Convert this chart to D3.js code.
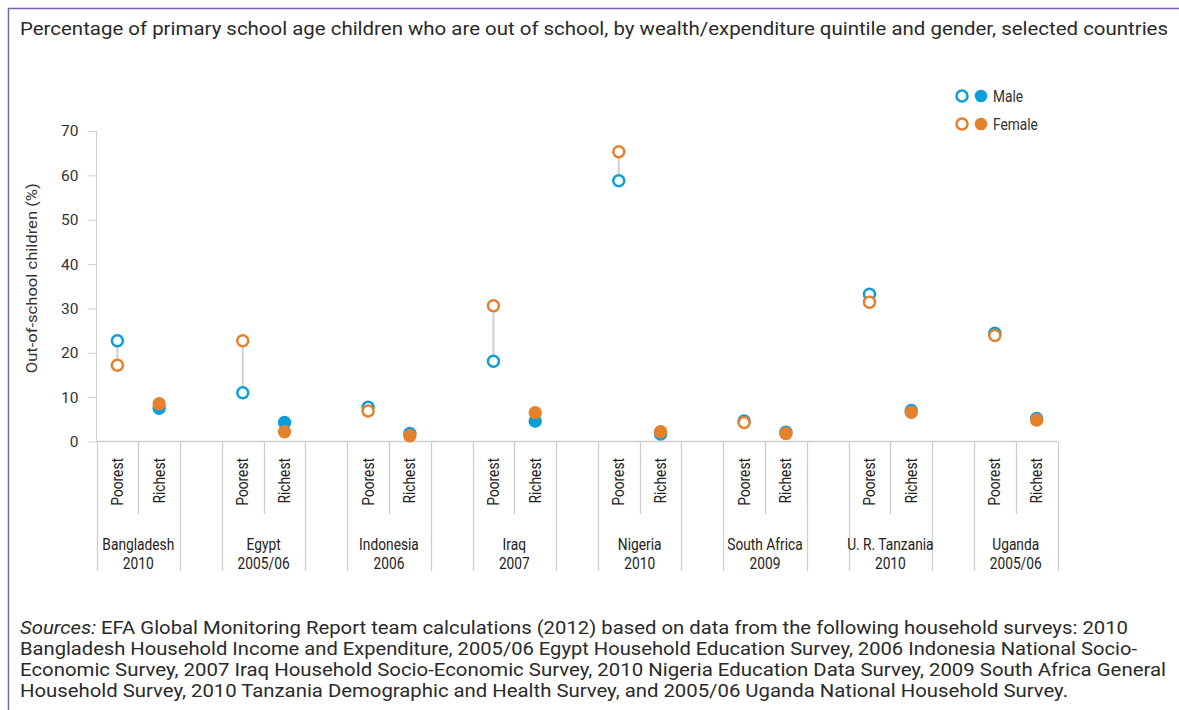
<!DOCTYPE html>
<html>
<head>
<meta charset="utf-8">
<script src="https://cdn.jsdelivr.net/npm/d3@7.9.0/dist/d3.min.js"></script>
<style>
  body { margin: 0; background: #fff; }
  svg { display: block; }
  .cond { font-family: "Roboto", "Liberation Sans", sans-serif; }
  .plain { font-family: "Roboto", "Noto Sans", sans-serif; }
</style>
</head>
<body>
<svg id="chart" width="1179" height="710"></svg>
<script>
// chart values
const countries = ["Bangladesh", "Egypt", "Indonesia", "Iraq", "Nigeria", "South Africa", "U. R. Tanzania", "Uganda"];
const years = ["2010", "2005/06", "2006", "2007", "2010", "2009", "2010", "2005/06"];
const quintiles = ["Poorest", "Richest"];
const malePoorest = [22.7, 11.0, 7.7, 18.1, 58.8, 4.6, 33.2, 24.4];
const femalePoorest = [17.2, 22.7, 6.9, 30.6, 65.3, 4.3, 31.4, 23.9];
const maleRichest = [7.5, 4.3, 1.8, 4.6, 1.7, 2.1, 7.0, 5.2];
const femaleRichest = [8.5, 2.2, 1.3, 6.5, 2.2, 1.8, 6.6, 4.85];
const yTicks = [0, 10, 20, 30, 40, 50, 60, 70];

const title = "Percentage of primary school age children who are out of school, by wealth/expenditure quintile and gender, selected countries";
const sourceLines = [
  "Bangladesh Household Income and Expenditure, 2005/06 Egypt Household Education Survey, 2006 Indonesia National Socio-",
  "Economic Survey, 2007 Iraq Household Socio-Economic Survey, 2010 Nigeria Education Data Survey, 2009 South Africa General",
  "Household Survey, 2010 Tanzania Demographic and Health Survey, and 2005/06 Uganda National Household Survey."
];

const blue = "#0c9ed9";
const orange = "#e5812b";
const grey = "#cfcfcf";
const squeeze = 0.86; // narrow the labels like a condensed face

const svg = d3.select("#chart");

// frame
svg.append("path")
  .attr("d", "M8.5,710 L8.5,8.5 L1179,8.5")
  .attr("fill", "none")
  .attr("stroke", "#7e62ad")
  .attr("stroke-width", 1.5);

// title
svg.append("text")
  .attr("class", "plain")
  .attr("x", 20).attr("y", 35)
  .attr("font-size", 18.5)
  .attr("fill", "#2a2a2a")
  .attr("textLength", 1148)
  .attr("lengthAdjust", "spacingAndGlyphs")
  .text(title);

// slots: Poorest, Richest, gap per country
const slots = [];
countries.forEach((c, i) => {
  slots.push(i + "-Poorest", i + "-Richest");
  if (i < countries.length - 1) slots.push(i + "-gap");
});

const x = d3.scaleBand().domain(slots).range([96.5, 1057.5]).padding(0);
const y = d3.scaleLinear().domain([0, 70]).range([441.5, 131]);

// y axis
const yAxis = svg.append("g")
  .attr("class", "cond")
  .attr("transform", "translate(96.5,0)")
  .call(d3.axisLeft(y).tickValues(yTicks).tickSize(9).tickPadding(9));
yAxis.select(".domain").attr("stroke", grey).attr("d", `M0,${y(70)}V${y(0)}`);
yAxis.selectAll(".tick line").attr("stroke", grey);
yAxis.selectAll(".tick text").attr("font-size", 15.5).attr("fill", "#333")
  .attr("font-family", "Roboto, sans-serif");

svg.append("text")
  .attr("class", "cond")
  .attr("transform", `translate(37,${(y(0) + y(70)) / 2 - 8}) rotate(-90)`)
  .attr("text-anchor", "middle")
  .attr("font-size", 15.5)
  .attr("fill", "#333")
  .attr("textLength", 190)
  .attr("lengthAdjust", "spacingAndGlyphs")
  .text("Out-of-school children (%)");

// x axis baseline
svg.append("line")
  .attr("x1", 96.5).attr("x2", 1057.5)
  .attr("y1", y(0)).attr("y2", y(0))
  .attr("stroke", grey).attr("stroke-width", 1.5);

// slot separators
const bounds = d3.range(slots.length + 1);
svg.append("g").selectAll("line")
  .data(bounds)
  .join("line")
  .attr("x1", k => Math.round(x.range()[0] + k * x.bandwidth()) + 0.5)
  .attr("x2", k => Math.round(x.range()[0] + k * x.bandwidth()) + 0.5)
  .attr("y1", y(0))
  .attr("y2", k => (k % 3 === 1 ? 514 : 571))
  .attr("stroke", grey)
  .attr("stroke-width", 1.3);

// quintile labels
const qLabels = [];
countries.forEach((c, i) => quintiles.forEach(q => qLabels.push({ i, q })));
svg.append("g").selectAll("text")
  .data(qLabels)
  .join("text")
  .attr("class", "cond")
  .attr("transform", d => `translate(${x(d.i + "-" + d.q) + x.bandwidth() / 2 + 5.5},458) rotate(-90) scale(${squeeze},1)`)
  .attr("text-anchor", "end")
  .attr("font-size", 16)
  .attr("fill", "#222")
  .text(d => d.q);

// country labels
const cg = svg.append("g").selectAll("text")
  .data(countries)
  .join("text")
  .attr("class", "cond")
  .attr("transform", (d, i) => `translate(${x(i + "-Richest")},0) scale(${squeeze},1)`)
  .attr("text-anchor", "middle")
  .attr("font-size", 16)
  .attr("fill", "#222");
cg.append("tspan")
  .attr("x", 0)
  .attr("y", 550)
  .text(d => d);
cg.append("tspan")
  .attr("x", 0)
  .attr("y", 569)
  .text((d, i) => years[i]);

// points
const pts = [];
countries.forEach((c, i) => {
  pts.push({ key: i + "-Poorest", m: malePoorest[i], f: femalePoorest[i], hollow: true });
  pts.push({ key: i + "-Richest", m: maleRichest[i], f: femaleRichest[i], hollow: false });
});
const cx = d => x(d.key) + x.bandwidth() / 2;

svg.append("g").selectAll("line")
  .data(pts)
  .join("line")
  .attr("x1", cx).attr("x2", cx)
  .attr("y1", d => y(d.m)).attr("y2", d => y(d.f))
  .attr("stroke", grey).attr("stroke-width", 2);

function drawMarks(g, data, accessor, color) {
  g.selectAll("circle")
    .data(data)
    .join("circle")
    .attr("cx", cx)
    .attr("cy", d => y(accessor(d)))
    .attr("r", d => (d.hollow ? 5.5 : 6.7))
    .attr("fill", d => (d.hollow ? "#fff" : color))
    .attr("stroke", d => (d.hollow ? color : "none"))
    .attr("stroke-width", 2.5);
}
drawMarks(svg.append("g"), pts, d => d.m, blue);
drawMarks(svg.append("g"), pts, d => d.f, orange);

// legend
const legend = [{ name: "Male", color: blue }, { name: "Female", color: orange }];
const lg = svg.append("g").selectAll("g")
  .data(legend)
  .join("g")
  .attr("transform", (d, i) => `translate(962,${96 + i * 28})`);
lg.append("circle").attr("r", 5.5).attr("fill", "#fff")
  .attr("stroke", d => d.color).attr("stroke-width", 2.5);
lg.append("circle").attr("cx", 19).attr("r", 6.3).attr("fill", d => d.color);
lg.append("text")
  .attr("class", "cond")
  .attr("transform", `translate(31,5.5) scale(${squeeze},1)`)
  .attr("font-size", 16)
  .attr("fill", "#333")
  .text(d => d.name);

// sources
const src = svg.append("g").attr("class", "plain").attr("font-size", 17.5).attr("fill", "#2a2a2a");
const first = src.append("text").attr("x", 20).attr("y", 634)
  .attr("textLength", 1108).attr("lengthAdjust", "spacingAndGlyphs");
first.append("tspan").attr("font-style", "italic").text("Sources:");
first.append("tspan").text(" EFA Global Monitoring Report team calculations (2012) based on data from the following household surveys: 2010");
const ends = [1137, 1166, 1068];
src.selectAll(".sl")
  .data(sourceLines)
  .join("text")
  .attr("class", "sl")
  .attr("x", 20)
  .attr("y", (d, i) => 655 + i * 21)
  .attr("textLength", (d, i) => ends[i] - 20)
  .attr("lengthAdjust", "spacingAndGlyphs")
  .text(d => d);
</script>
</body>
</html>
